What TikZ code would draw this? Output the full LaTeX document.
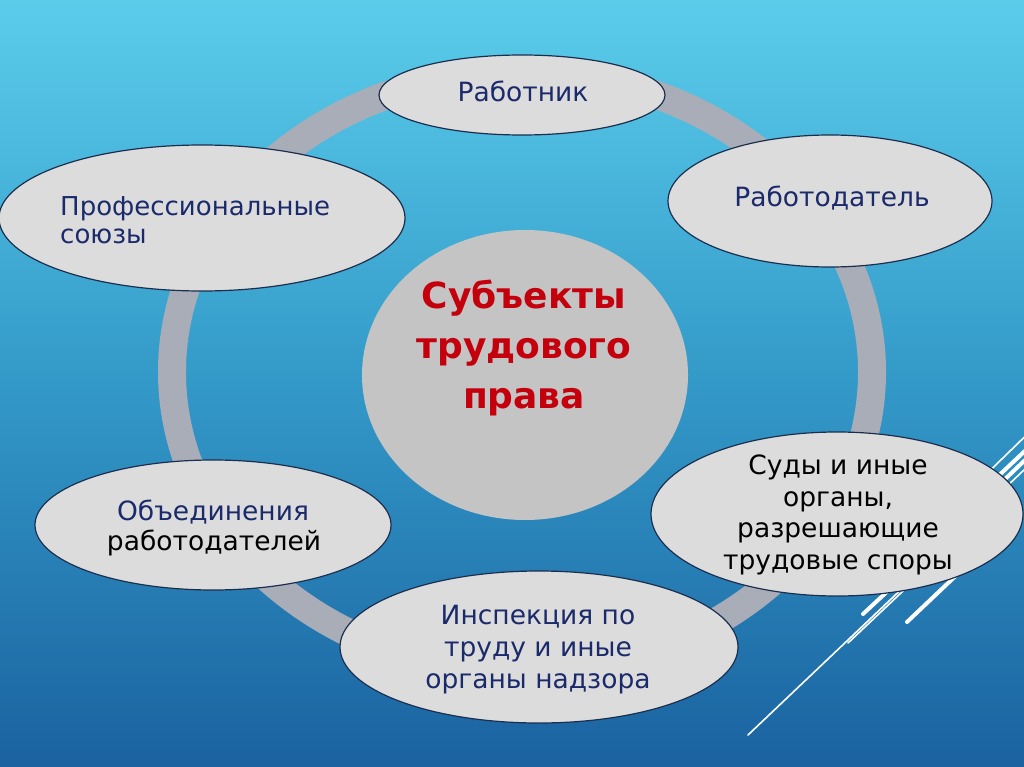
\documentclass[tikz,border=0pt]{standalone}
\usepackage{fontspec}
\setmainfont{DejaVu Sans}
\newfontfamily\boldsans{DejaVu Sans}
\usetikzlibrary{shapes.geometric}
\definecolor{bgtop}{HTML}{5BCDEB}
\definecolor{bgmid}{HTML}{3399C8}
\definecolor{bgbot}{HTML}{1A62A0}
\definecolor{ringgray}{HTML}{A9ADB8}
\definecolor{bubblefill}{HTML}{DCDCDC}
\definecolor{bubbleline}{HTML}{1C2E4E}
\definecolor{navytext}{HTML}{1B2A6B}
\definecolor{redtext}{HTML}{C4000C}
\definecolor{centerfill}{HTML}{C4C4C4}
\tikzset{
  bubble/.style={ellipse, draw=bubbleline, line width=1.2pt, fill=bubblefill, inner sep=0pt},
  txt/.style={font=\fontsize{26.5}{31.5}\selectfont, align=center, inner sep=0pt},
  thinln/.style={white, line width=1.6pt, line cap=round},
  thickln/.style={white, line width=4pt, line cap=round}
}
\begin{document}
\begin{tikzpicture}[x=1pt,y=-1pt]
\useasboundingbox (0,0) rectangle (1024,767);
\shade[top color=bgtop, bottom color=bgbot, middle color=bgmid] (0,0) rectangle (1024,767);
% decorative lines
\begin{scope}
\clip (0,0) rectangle (1024,767);
\coordinate (l1a) at (748,735); \coordinate (l1b) at (930,562);
\coordinate (l2a) at (848,643); \coordinate (l2b) at (920,575);
\coordinate (l3a) at (863,614); \coordinate (l3b) at (905,575);
\coordinate (l4a) at (907,622); \coordinate (l4b) at (965,567);
\coordinate (t1a) at (970,490); \coordinate (t1b) at (1045,417);
\coordinate (t2a) at (975,498); \coordinate (t2b) at (1045,432);
\coordinate (t3a) at (980,503); \coordinate (t3b) at (1045,441);
\coordinate (t4a) at (985,507); \coordinate (t4b) at (1045,450);
\draw[thinln] (l1a) -- (l1b);
\draw[thinln] (l2a) -- (l2b);
\draw[thickln] (l3a) -- (l3b);
\draw[thickln] (l4a) -- (l4b);
\draw[thinln] (t1a) -- (t1b);
\draw[thickln] (t2a) -- (t2b);
\draw[thickln] (t3a) -- (t3b);
\draw[thinln] (t4a) -- (t4b);
\end{scope}
% ring
\node[ellipse, draw=ringgray, line width=28pt, minimum width=700pt, minimum height=600pt, inner sep=0pt] (ring) at (522,372) {};
% center
\node[ellipse, fill=centerfill, minimum width=326pt, minimum height=290pt, inner sep=0pt] (center) at (525,375) {};
\node[font=\boldsans\bfseries\fontsize{36}{50}\selectfont, text=redtext, align=center, inner sep=0pt] (ctext) at (524,348) {Субъекты\\трудового\\права};
% bubbles
\node[bubble, minimum width=286pt, minimum height=80pt] (rab) at (522,95) {};
\node[txt, text=navytext] (rabt) at (523,91) {Работник};
\node[bubble, minimum width=324pt, minimum height=132pt] (rabd) at (830,201) {};
\node[txt, text=navytext] (rabdt) at (832,198) {Работодатель};
\node[bubble, minimum width=406pt, minimum height=146pt] (prof) at (202,218) {};
\node[txt, text=navytext, align=left, anchor=west, font=\fontsize{26}{28}\selectfont] (proft) at (60,220) {Профессиональные\\союзы};
\node[bubble, minimum width=356pt, minimum height=130pt] (obed) at (213,525) {};
\node[txt, text=navytext] (obedt1) at (213,512) {Объединения};
\node[txt, text=black] (obedt2) at (214,543) {работодателей};
\node[bubble, minimum width=372pt, minimum height=164pt] (sud) at (837,514) {};
\node[txt, text=black] (sudt) at (838,515) {Суды и иные\\органы,\\разрешающие\\трудовые споры};
\node[bubble, minimum width=398pt, minimum height=152pt] (insp) at (539,647) {};
\node[txt, text=navytext, font=\fontsize{26.5}{32}\selectfont] (inspt) at (538,650) {Инспекция по\\труду и иные\\органы надзора};
\end{tikzpicture}
\end{document}
